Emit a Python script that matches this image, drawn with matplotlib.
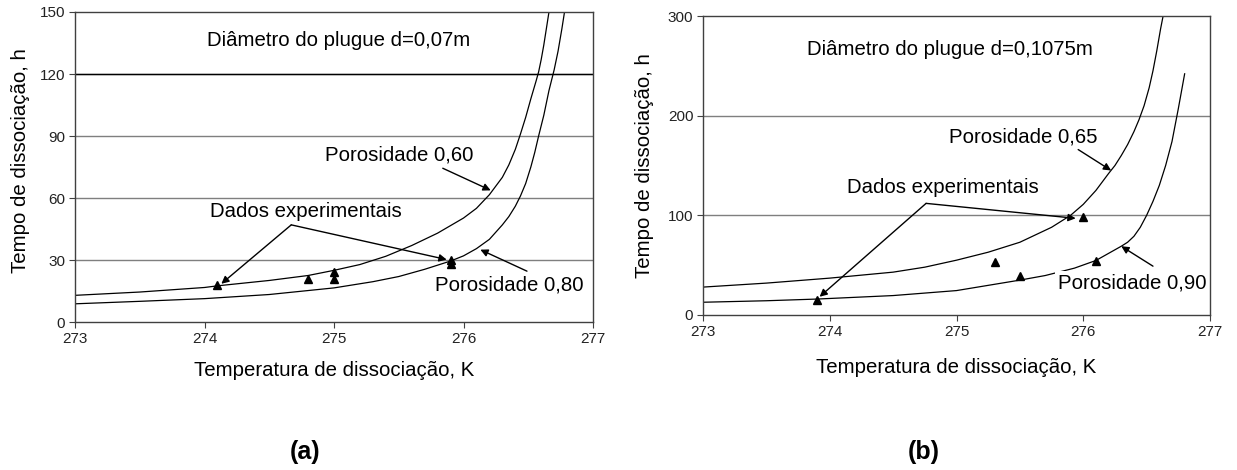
import matplotlib
matplotlib.use("Agg")
import matplotlib.pyplot as plt

plt.rcParams['font.family'] = ['Liberation Sans', 'DejaVu Sans']

# (a) plug diameter 0.07 m
temp_a_060 = [273.0, 273.5, 274.0, 274.1, 274.5, 274.8, 275.0, 275.2, 275.4, 275.6,
              275.8, 276.0, 276.1, 276.2, 276.3, 276.35, 276.4, 276.44, 276.48, 276.52,
              276.56, 276.58, 276.6, 276.62, 276.64, 276.66]
time_a_060 = [12.9, 14.5, 16.7, 17.5, 20.1, 22.5, 25.0, 27.8, 31.8, 37.0,
              43.0, 50.3, 55.0, 61.6, 70.0, 76.0, 83.5, 91.0, 99.0, 108.0,
              116.5, 121.0, 127.0, 134.0, 142.0, 150.0]
temp_a_080 = [273.0, 273.5, 274.0, 274.5, 275.0, 275.3, 275.5, 275.7, 275.9, 276.0,
              276.1, 276.2, 276.3, 276.35, 276.4, 276.44, 276.48, 276.52, 276.55, 276.58,
              276.62, 276.66, 276.7, 276.73, 276.76, 276.78]
time_a_080 = [8.8, 10.0, 11.3, 13.3, 16.5, 19.5, 22.0, 25.5, 29.5, 32.0,
              35.5, 40.0, 47.0, 51.0, 56.0, 61.0, 67.0, 75.0, 82.0, 90.0,
              100.0, 112.0, 122.0, 131.0, 142.0, 150.0]
exp_temp_a = [274.1, 274.8, 275.0, 275.0, 275.9, 275.9]
exp_time_a = [18, 21, 21, 24, 28, 30]

# (b) plug diameter 0.1075 m
temp_b_065 = [273.0, 273.5, 274.0, 274.5, 274.75, 275.0, 275.25, 275.5, 275.75, 275.9,
              276.0, 276.1, 276.2, 276.25, 276.3, 276.35, 276.4, 276.44, 276.48, 276.52,
              276.55, 276.58, 276.61, 276.63]
time_b_065 = [28, 32, 37, 43, 48, 55, 63, 73, 88, 100,
              111, 125, 142, 150, 160, 171, 184, 196, 210, 228,
              245, 265, 287, 300]
temp_b_090 = [273.0, 273.5, 273.9, 274.5, 275.0, 275.5, 275.7, 275.93, 276.1, 276.3,
              276.35, 276.4, 276.45, 276.5, 276.55, 276.6, 276.65, 276.7, 276.75, 276.8]
time_b_090 = [12.8, 14.3, 16.0, 19.5, 24.5, 35.0, 39.6, 47.0, 54.7, 69.0,
              73.0, 79.0, 88.0, 100.0, 114.0, 130.0, 150.0, 174.0, 207.0, 242.0]
exp_temp_b = [273.9, 275.3, 275.5, 276.0, 276.1]
exp_time_b = [15, 53, 39, 98, 54]

x_ticks = [273, 274, 275, 276, 277]
y_ticks_a = [0, 30, 60, 90, 120, 150]
y_ticks_b = [0, 100, 200, 300]

W, H = 1237, 470
fig = plt.figure(figsize=(W / 100, H / 100), dpi=100)
ax_a = fig.add_axes([75 / W, 1 - 322 / H, 518 / W, 310 / H])
ax_b = fig.add_axes([703 / W, 1 - 315 / H, 507 / W, 299 / H])

spine_c = '#404040'
grid_c = '#7f7f7f'
fs = 14.7
txt = dict(fontsize=fs, color='black')
arrow = dict(arrowstyle='-|>', color='black', lw=1.0, mutation_scale=11,
             shrinkA=0, shrinkB=0)


def setup(ax, yticks, ymax):
    ax.set_xlim(273, 277)
    ax.set_ylim(0, ymax)
    ax.set_xticks(x_ticks)
    ax.set_yticks(yticks)
    for s in ax.spines.values():
        s.set_color(spine_c)
        s.set_linewidth(1.0)
    ax.tick_params(direction='out', length=4, width=0.8, color=spine_c,
                   labelsize=11, labelcolor='#222222', pad=3)
    for y in yticks[1:-1]:
        ax.axhline(y, color=grid_c, lw=1.0, zorder=0)


setup(ax_a, y_ticks_a, 150)
setup(ax_b, y_ticks_b, 300)
ax_a.axhline(120, color='black', lw=1.0, zorder=0)

# panel (a)
ax_a.plot(temp_a_060, time_a_060, color='black', lw=0.9, zorder=2)
ax_a.plot(temp_a_080, time_a_080, color='black', lw=0.9, zorder=2)
ax_a.plot(exp_temp_a, exp_time_a, linestyle='none', marker='^', color='black',
          markersize=6, zorder=3)
ax_a.text(274.02, 136, 'Diâmetro do plugue d=0,07m', va='center', **txt)
ax_a.text(274.93, 81, 'Porosidade 0,60', va='center', **txt)
ax_a.annotate('', xy=(276.21, 63.7), xytext=(275.84, 74.4), arrowprops=arrow)
ax_a.text(274.04, 53.5, 'Dados experimentais', va='center', **txt)
ax_a.annotate('', xy=(274.13, 18.5), xytext=(274.67, 47), arrowprops=arrow)
ax_a.annotate('', xy=(275.87, 30.2), xytext=(274.67, 47), arrowprops=arrow)
ax_a.text(275.78, 17.7, 'Porosidade 0,80', va='center', **txt)
ax_a.annotate('', xy=(276.13, 35), xytext=(276.49, 24.6), arrowprops=arrow)

# panel (b)
ax_b.plot(temp_b_065, time_b_065, color='black', lw=0.9, zorder=2)
ax_b.plot(temp_b_090, time_b_090, color='black', lw=0.9, zorder=2)
ax_b.plot(exp_temp_b, exp_time_b, linestyle='none', marker='^', color='black',
          markersize=6, zorder=3)
ax_b.text(273.82, 266, 'Diâmetro do plugue d=0,1075m', va='center', **txt)
ax_b.text(274.94, 179, 'Porosidade 0,65', va='center', **txt)
ax_b.annotate('', xy=(276.22, 145), xytext=(275.96, 166), arrowprops=arrow)
ax_b.text(274.14, 128, 'Dados experimentais', va='center', **txt)
ax_b.annotate('', xy=(273.92, 18.3), xytext=(274.76, 112), arrowprops=arrow)
ax_b.annotate('', xy=(275.94, 97), xytext=(274.76, 112), arrowprops=arrow)
ax_b.text(275.8, 32, 'Porosidade 0,90', va='center', zorder=4,
          bbox=dict(facecolor='white', edgecolor='none', pad=2), **txt)
ax_b.annotate('', xy=(276.3, 69), xytext=(276.55, 49), arrowprops=arrow)

for ax, lx, ly in [(ax_a, -0.106, 0.52), (ax_b, -0.116, 0.5)]:
    ax.set_xlabel('Temperatura de dissociação, K', fontsize=fs)
    ax.set_ylabel('Tempo de dissociação, h', fontsize=fs)
    ax.yaxis.set_label_coords(lx, ly)
    ax.xaxis.label.set_va('center')
    ax.yaxis.label.set_va('center')
ax_a.xaxis.set_label_coords(0.5, -0.158)
ax_b.xaxis.set_label_coords(0.5, -0.177)

fig.text(305 / W, 1 - 452 / H, '(a)', ha='center', va='center',
         fontsize=18, fontweight='bold')
fig.text(924 / W, 1 - 452 / H, '(b)', ha='center', va='center',
         fontsize=18, fontweight='bold')

fig.savefig('out.png', dpi=100)
